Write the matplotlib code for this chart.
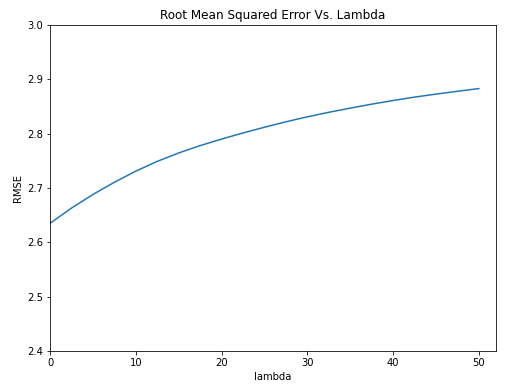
import numpy as np
import matplotlib
matplotlib.use("Agg")
import matplotlib.pyplot as plt

# values
lambdas = [0, 2.5, 5, 7.5, 10, 12.5, 15, 17.5, 20, 22.5, 25,
           27.5, 30, 32.5, 35, 37.5, 40, 42.5, 45, 47.5, 50]
rmse = [2.6350, 2.6630, 2.6880, 2.7105, 2.7310, 2.7490, 2.7645, 2.7780,
        2.7900, 2.8013, 2.8118, 2.8218, 2.8310, 2.8393, 2.8470, 2.8543,
        2.8610, 2.8673, 2.8728, 2.8780, 2.8830]

fig = plt.figure(figsize=(522 / 72, 384 / 72), dpi=72)
ax = fig.add_axes([50 / 522, 33 / 384, 446 / 522, 326 / 384])

ax.plot(lambdas, rmse, color='#1f77b4', linewidth=1.5)
ax.set_xlim(0, 52)
ax.set_ylim(2.4, 3.0)
ax.set_title("Root Mean Squared Error Vs. Lambda")
ax.set_xlabel("lambda")
ax.set_ylabel("RMSE")

fig.savefig("out.png", dpi=72)
